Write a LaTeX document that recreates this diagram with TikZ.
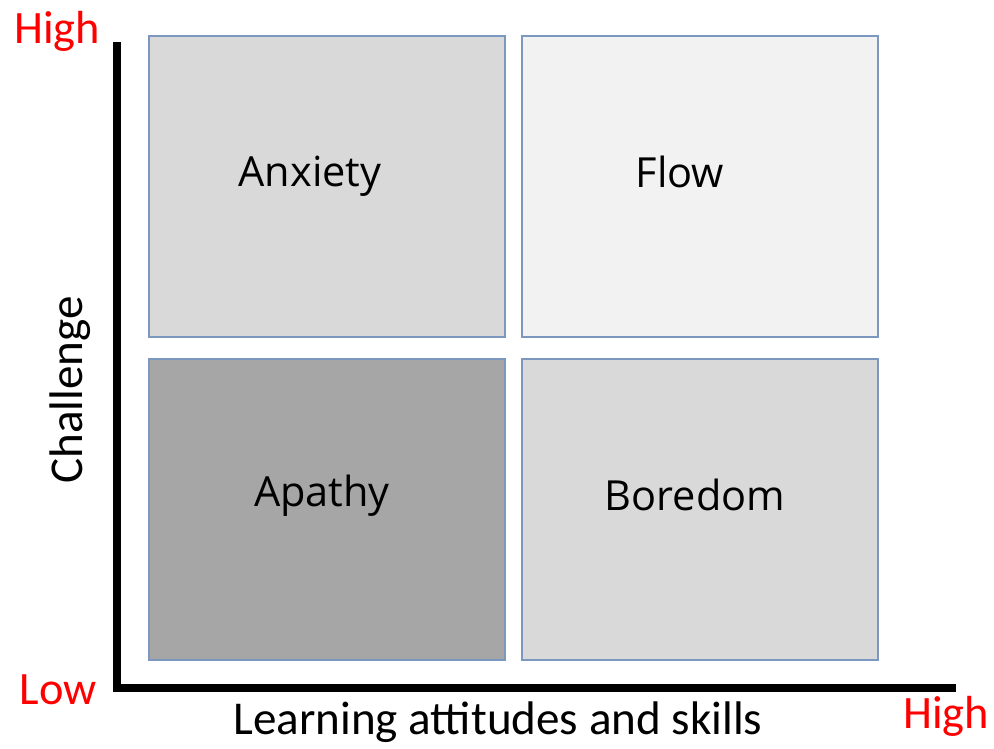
\documentclass[tikz,border=0pt]{standalone}
\usepackage{fontspec}
\setmainfont{Carlito}
\newfontfamily\boxfont{Open Sans}
\definecolor{edgeblue}{RGB}{125,152,190}
\definecolor{lowred}{RGB}{255,0,0}
\tikzset{
  quad/.style={draw=edgeblue,line width=1pt,minimum width=8.9cm,minimum height=7.525cm,inner sep=0pt},
  quadtext/.style={font=\boxfont\fontsize{29.5}{34}\selectfont},
  axislabel/.style={font=\fontsize{33.5}{38}\selectfont},
  levellabel/.style={font=\fontsize{33}{38}\selectfont,text=lowred}
}
\begin{document}
\begin{tikzpicture}[x=0.025cm,y=0.025cm]
\useasboundingbox (0,0) rectangle (994,749);
% the four quadrants
\node[quad,fill=black!15] (anxiety) at (327,562.5) {};
\node[quad,fill=black!5] (flow) at (700,562.5) {};
\node[quad,fill=black!35] (apathy) at (327,239.5) {};
\node[quad,fill=black!15] (boredom) at (700,239.5) {};
\node[quadtext] (tanx) at (310,573) {Anxiety};
\node[quadtext] (tflow) at (680,577) {Flow};
\node[quadtext] (tapa) at (322,253) {Apathy};
\node[quadtext] (tbor) at (695,254) {Boredom};
% axes
\coordinate (origin) at (117,61);
\coordinate (ytop) at (117,707);
\coordinate (xend) at (956,61);
\draw[line width=5pt] (ytop) -- (origin) -- (xend);
\node[axislabel,rotate=90] (chal) at (70,359) {Challenge};
\node[axislabel] (learn) at (498,27) {Learning attitudes and skills};
\node[levellabel] (yhigh) at (57,718) {High};
\node[levellabel] (low) at (58,59) {Low};
\node[levellabel] (xhigh) at (946,33) {High};
\end{tikzpicture}
\end{document}
